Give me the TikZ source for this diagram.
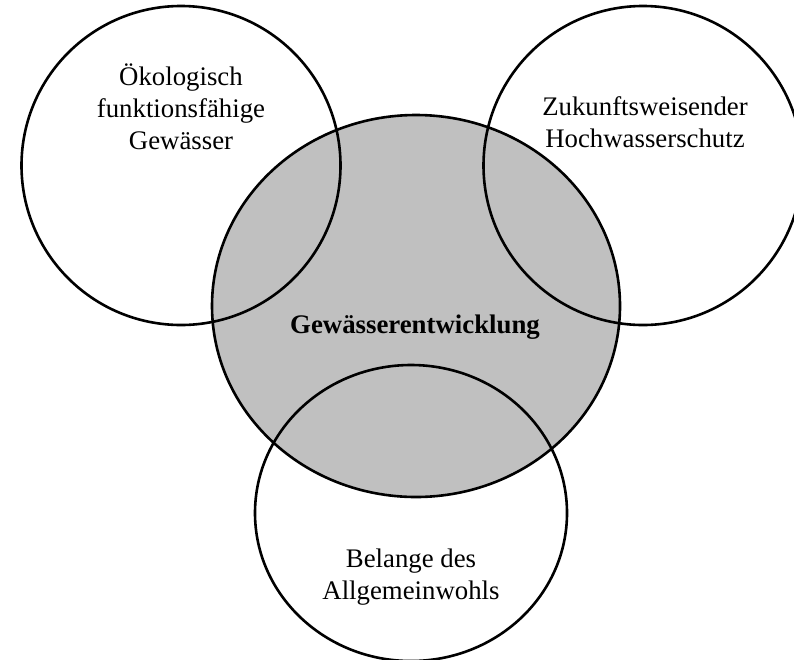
\documentclass[tikz,border=0pt]{standalone}
\usepackage{fontspec}
\setmainfont{Liberation Serif}
\definecolor{kerngrau}{RGB}{192,192,192}
\tikzset{
  ring/.style={line width=2.6pt},
  ziel/.style={align=center,font=\fontsize{26.8}{32}\selectfont}
}
\begin{document}
\begin{tikzpicture}[x=1pt,y=-1pt]
  \useasboundingbox (0,0) rectangle (794,659);

  \fill[kerngrau] (416,306) ellipse [x radius=204,y radius=191];

  \draw[ring] (181,165.5) circle [radius=159.5];
  \draw[ring] (643,165.5) circle [radius=159.5];
  \draw[ring] (416,306) ellipse [x radius=204,y radius=191];
  \draw[ring] (411,513) ellipse [x radius=156,y radius=148];

  \node[ziel] (oeko) at (181,106.5) {Ökologisch\\funktionsfähige\\Gewässer};
  \node[ziel] (hochwasser) at (645,122.5) {Zukunftsweisender\\Hochwasserschutz};
  \node[ziel,font=\fontsize{26.8}{32}\selectfont\bfseries] (kern) at (415,327) {Gewässerentwicklung};
  \node[ziel] (wohl) at (411,577) {Belange des\\Allgemeinwohls};
\end{tikzpicture}
\end{document}
